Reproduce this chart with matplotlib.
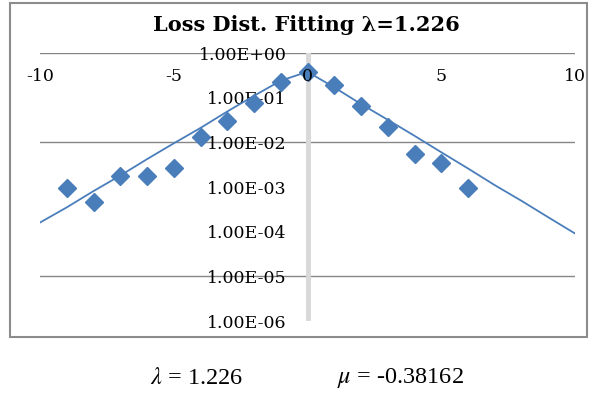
import numpy as np
import matplotlib.pyplot as plt
from matplotlib.patches import Rectangle

plt.rcParams['mathtext.fontset'] = 'stix'

# observed loss frequencies
obs_x = [-9, -8, -7, -6, -5, -4, -3, -2, -1, 0, 1, 2, 3, 4, 5, 6]
obs_y = [9.3e-4, 4.5e-4, 1.8e-3, 1.8e-3, 2.7e-3, 1.3e-2, 3.0e-2, 7.5e-2, 2.2e-1,
         3.7e-1, 1.9e-1, 6.5e-2, 2.2e-2, 5.4e-3, 3.5e-3, 9.3e-4]

# fitted curve, read at integer x
fit_x = list(range(-10, 11))
fit_y = [1.6e-4, 3.5e-4, 8.1e-4, 1.8e-3, 4.2e-3, 9.5e-3, 2.1e-2, 4.9e-2, 1.1e-1, 2.4e-1,
         3.8e-1, 1.7e-1, 7.2e-2, 3.2e-2, 1.4e-2, 6.0e-3, 2.6e-3, 1.1e-3, 4.9e-4, 2.1e-4, 9.1e-5]

x_ticks = [-10, -5, 0, 5, 10]
y_ticks = [1e0, 1e-1, 1e-2, 1e-3, 1e-4, 1e-5, 1e-6]
y_labels = ["1.00E+00", "1.00E-01", "1.00E-02", "1.00E-03", "1.00E-04", "1.00E-05", "1.00E-06"]
grid_levels = [1e0, 1e-2, 1e-5]

blue = '#4a7ebb'

fig = plt.figure(figsize=(5.9, 3.94), dpi=100)
ax = fig.add_axes([40/590, 1 - 321/394, 535/590, 268/394])

ax.set_yscale('log')
ax.set_xlim(-10, 10)
ax.set_ylim(1e-6, 1e0)

for g in grid_levels:
    ax.axhline(g, color='#868686', lw=1.0, zorder=1)
ax.axvline(0, color='#d9d9d9', lw=3.5, zorder=1)

ax.plot(fit_x, fit_y, color=blue, lw=1.3, zorder=3)
ax.plot(obs_x, obs_y, 'D', color=blue, ms=9, zorder=4)

for s in ax.spines.values():
    s.set_visible(False)

ax.set_yticks(y_ticks)
ax.set_yticklabels(y_labels)
ax.yaxis.set_minor_locator(plt.NullLocator())
ax.spines['left'].set_position(('data', 0))
ax.tick_params(axis='y', length=0, pad=15, labelsize=12.5)
for t in ax.get_yticklabels():
    t.set_family('DejaVu Serif')

ax.set_xticks(x_ticks)
ax.set_xticklabels([str(v) for v in x_ticks])
ax.spines['bottom'].set_position(('data', 1e0))
ax.tick_params(axis='x', length=0, pad=11, labelsize=12.5)
for t in ax.get_xticklabels():
    t.set_family('DejaVu Serif')
ax.xaxis.set_zorder(5)

fig.text(306/590, 1 - 25/394, "Loss Dist. Fitting λ=1.226", ha='center', va='center',
         family='DejaVu Serif', fontweight='bold', fontsize=15)

fig.patches.append(Rectangle((10/590, 1 - 337/394), 577/590, 334/394, transform=fig.transFigure,
                             fill=False, edgecolor='#8c8c8c', lw=1.5))

fig.text(197/590, 1 - 378/394, r"$\lambda$ = 1.226", ha='center', va='center',
         family='Liberation Serif', fontsize=17.5)
fig.text(400/590, 1 - 378/394, r"$\mu$ = -0.38162", ha='center', va='center',
         family='Liberation Serif', fontsize=17.5)

fig.savefig('out.png', dpi=100)
